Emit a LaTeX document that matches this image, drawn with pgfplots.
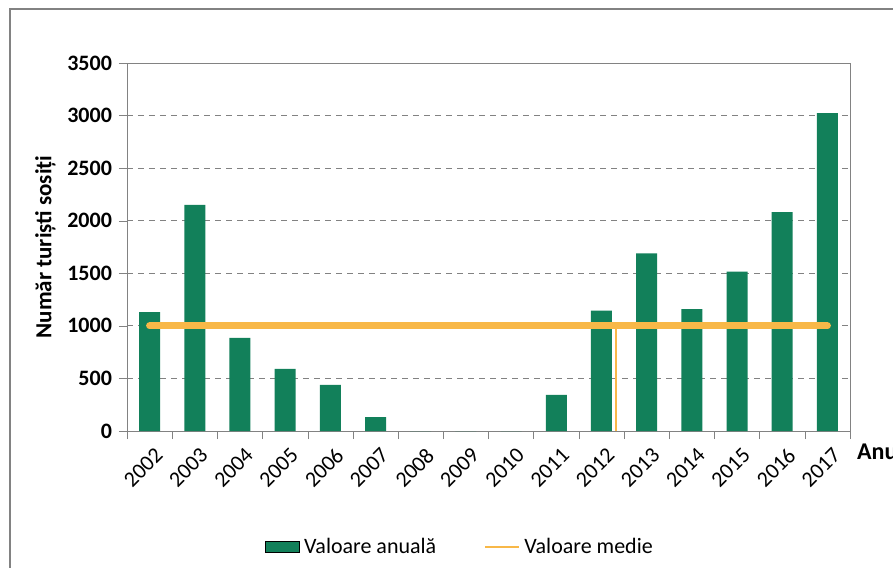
\documentclass[border=0pt]{standalone}
\usepackage{fontspec}
\setmainfont{Carlito}
\usepackage{pgfplots}
\pgfplotsset{compat=1.18}

\definecolor{barverde}{RGB}{18,128,90}
\definecolor{medieorange}{RGB}{248,184,72}
\definecolor{axgray}{RGB}{130,130,130}

% turisti sositi pe ani (index 0 = 2002)
\pgfplotstableread{
idx val
0  1130
1  2150
2  885
3  590
4  438
5  133
6  0
7  0
8  0
9  343
10 1145
11 1690
12 1158
13 1516
14 2081
15 3023
}\turisti

\begin{document}
\begin{tikzpicture}[font=\fontsize{11}{13}\selectfont]
\useasboundingbox (-63.5pt,-68pt) rectangle (383pt,215.5pt);
\begin{axis}[
    at={(0,0)}, anchor=south west,
    width=361.5pt, height=184pt,
    scale only axis,
    xmin=-0.5, xmax=15.5,
    ymin=0, ymax=3500,
    ytick={0,500,...,3500},
    xtick={0,...,15},
    xticklabels={2002,2003,2004,2005,2006,2007,2008,2009,2010,2011,2012,2013,2014,2015,2016,2017},
    x tick label style={rotate=45, anchor=north east, inner sep=1pt, yshift=-3pt},
    y tick label style={font=\fontsize{11}{13}\selectfont\bfseries},
    /pgf/number format/assume math mode=true,
    /pgf/number format/1000 sep={},
    minor xtick={-0.5,0.5,...,15.5},
    major tick length=4pt,
    minor tick length=4pt,
    tick align=outside,
    tick pos=left,
    xtick style={draw=none},
    minor x tick style={draw=axgray},
    ytick style={draw=axgray},
    axis line style={draw=axgray},
    ymajorgrids,
    major grid style={dashed, axgray, dash pattern=on 3pt off 2.5pt},
    ylabel={\bfseries Număr turiști sosiți},
    ylabel style={yshift=-1pt, font=\fontsize{11.5}{13}\selectfont},
    legend style={at={(0.462,-0.315)}, anchor=center, draw=none, legend columns=2,
        /tikz/every even column/.append style={column sep=22pt}},
    legend cell align=left,
    clip=false,
]
\addplot[ybar, bar width=10.5pt, fill=barverde, draw=none, area legend]
    table[x=idx, y=val] {\turisti};
\addlegendentry{Valoare anuală}
\addplot[medieorange, line width=3.5pt, line cap=round, forget plot]
    coordinates {(0,1000) (15,1000)};
\addplot[medieorange, line width=0.8pt, forget plot]
    coordinates {(10.32,0) (10.32,1000)};
\addlegendimage{medieorange, line width=1pt}
\addlegendentry{Valoare medie}
\node[anchor=west, font=\fontsize{12}{14}\selectfont\bfseries] at (rel axis cs:1,-0.055) {Anul};
\end{axis}
\draw[axgray, line width=0.6pt] (-58.5pt,-80pt) -- (-58.5pt,211pt) -- (400pt,211pt);
\end{tikzpicture}
\end{document}
